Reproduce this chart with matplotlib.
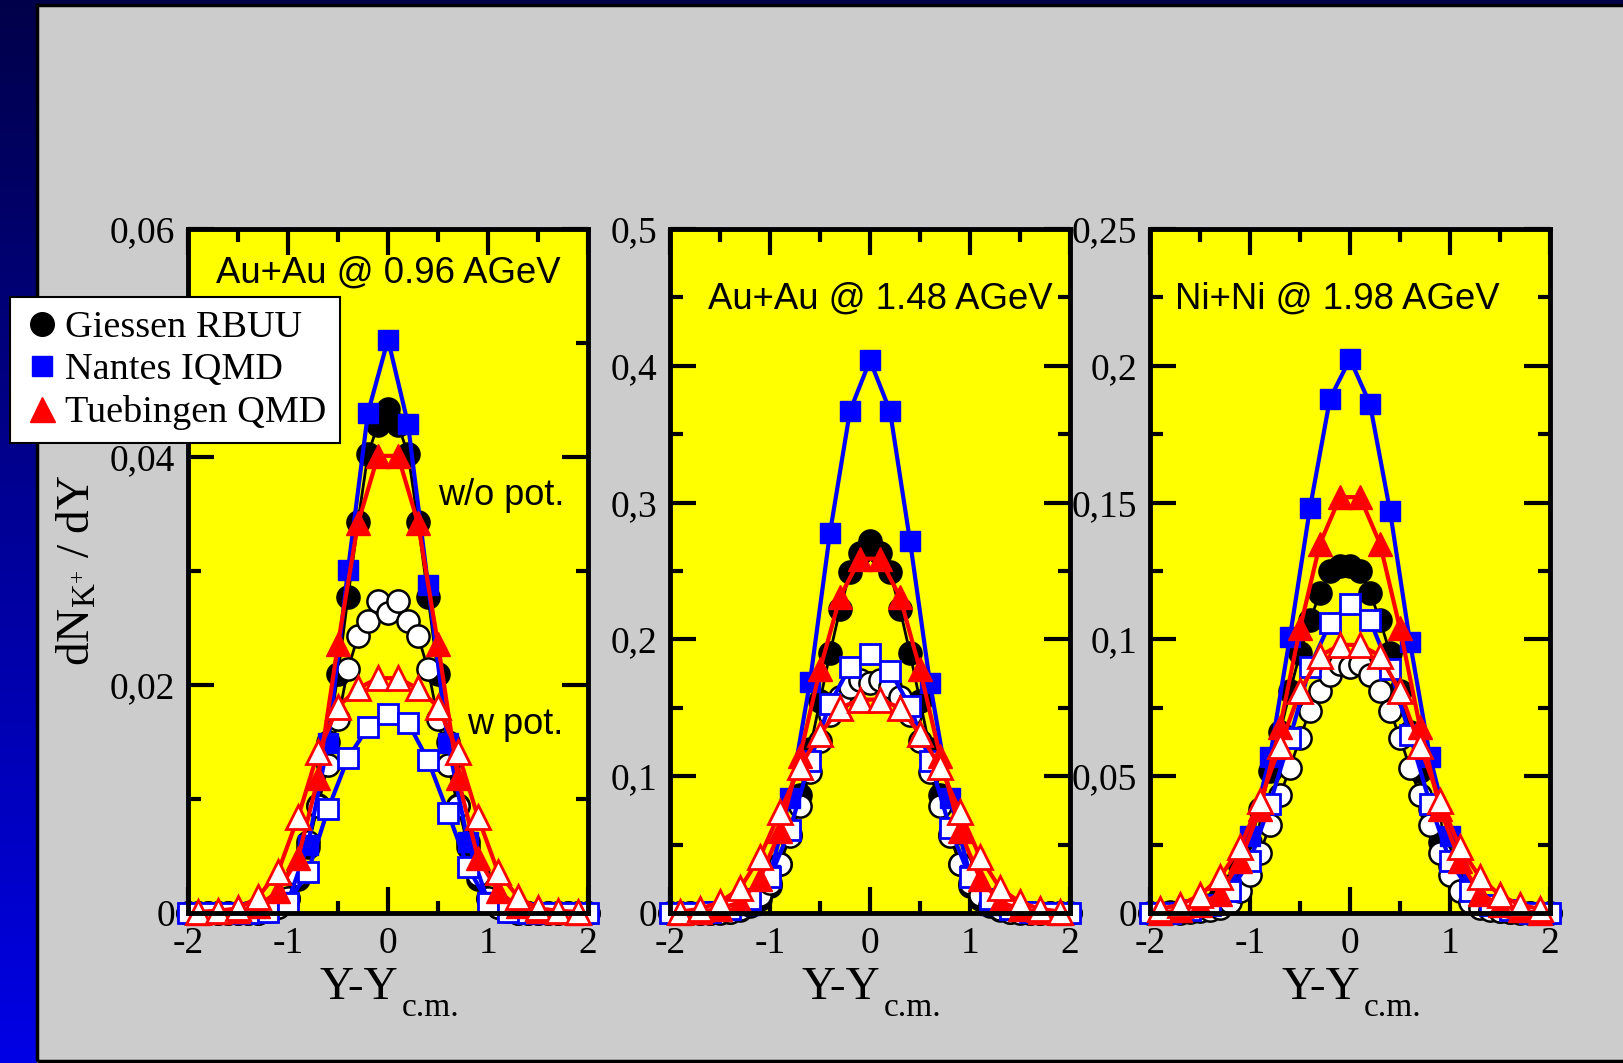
import numpy as np
import matplotlib
matplotlib.use("Agg")
import matplotlib.pyplot as plt
from matplotlib.lines import Line2D
from matplotlib.patches import Rectangle
from matplotlib.colors import LinearSegmentedColormap
from matplotlib.ticker import FixedLocator, FixedFormatter, MultipleLocator

plt.rcParams['mathtext.fontset'] = 'custom'
plt.rcParams['mathtext.rm'] = 'Liberation Serif'
plt.rcParams['mathtext.it'] = 'Liberation Serif:italic'
SERIF = ['Liberation Serif', 'DejaVu Serif']
SANS = ['Liberation Sans', 'DejaVu Sans']

# rapidity grids of the three transport codes
y_giessen = np.round(np.linspace(-2.0, 2.0, 41), 2)    # step 0.1
y_nantes = np.round(np.linspace(-2.0, 2.0, 21), 2)     # step 0.2
y_tuebingen = np.round(np.linspace(-1.9, 1.9, 20), 2)  # step 0.2, shifted

systems = ["Au+Au @ 0.96 AGeV", "Au+Au @ 1.48 AGeV", "Ni+Ni @ 1.98 AGeV"]
model_labels = ["Giessen RBUU", "Nantes IQMD", "Tuebingen QMD"]

# ---- Au+Au @ 0.96 AGeV ----
au096_giessen_nopot = [0, 0, 0, 0, 0, 0, 0, 0, 0.0002, 0.0005, 0.0012, 0.003, 0.0058, 0.0095,
                       0.0150, 0.0210, 0.0277, 0.0343, 0.0403, 0.0428, 0.0442, 0.0428, 0.0403,
                       0.0343, 0.0277, 0.0210, 0.0150, 0.0095, 0.0058, 0.003, 0.0012, 0.0005,
                       0.0002, 0, 0, 0, 0, 0, 0, 0, 0]
au096_giessen_pot = [0, 0, 0, 0, 0, 0, 0, 0, 0.0002, 0.0005, 0.0013, 0.0033, 0.0062, 0.0094,
                     0.0130, 0.0170, 0.0214, 0.0243, 0.0256, 0.0274, 0.0263, 0.0274, 0.0256,
                     0.0243, 0.0214, 0.0170, 0.0130, 0.0094, 0.0062, 0.0033, 0.0013, 0.0005,
                     0.0002, 0, 0, 0, 0, 0, 0, 0, 0]
au096_nantes_nopot = [0, 0, 0, 0, 0.0002, 0.0010, 0.0060, 0.0149, 0.0301, 0.0439, 0.0503,
                      0.0429, 0.0288, 0.0149, 0.0062, 0.0010, 0.0002, 0, 0, 0, 0]
au096_nantes_pot = [0, 0, 0, 0, 0.0001, 0.0009, 0.0036, 0.0091, 0.0136, 0.0163, 0.0175,
                    0.0167, 0.0134, 0.0088, 0.0040, 0.0009, 0.0001, 0, 0, 0, 0]
au096_tuebingen_nopot = [0, 0.0001, 0.0002, 0.0006, 0.0019, 0.0048, 0.0118, 0.0236, 0.0342,
                         0.0401, 0.0401, 0.0342, 0.0236, 0.0118, 0.0048, 0.0019, 0.0006,
                         0.0002, 0.0001, 0]
au096_tuebingen_pot = [0.0001, 0.0002, 0.0004, 0.0014, 0.0036, 0.0084, 0.0141, 0.0181, 0.0197,
                       0.0206, 0.0206, 0.0197, 0.0181, 0.0141, 0.0084, 0.0036, 0.0014, 0.0004,
                       0.0002, 0.0001]

# ---- Au+Au @ 1.48 AGeV ----
au148_giessen_nopot = [0, 0, 0, 0, 0.0002, 0.0005, 0.001, 0.002, 0.005, 0.010, 0.020, 0.036,
                       0.058, 0.086, 0.120, 0.155, 0.190, 0.222, 0.249, 0.263, 0.272, 0.263,
                       0.249, 0.222, 0.190, 0.155, 0.120, 0.086, 0.058, 0.036, 0.020, 0.010,
                       0.005, 0.002, 0.001, 0.0005, 0.0002, 0, 0, 0, 0]
au148_giessen_pot = [0, 0, 0, 0, 0, 0.0003, 0.001, 0.003, 0.006, 0.013, 0.022, 0.036, 0.056,
                     0.078, 0.103, 0.126, 0.145, 0.158, 0.165, 0.170, 0.168, 0.170, 0.165,
                     0.158, 0.145, 0.126, 0.103, 0.078, 0.056, 0.036, 0.022, 0.013, 0.006,
                     0.003, 0.001, 0.0003, 0, 0, 0, 0, 0]
au148_nantes_nopot = [0, 0, 0.001, 0.002, 0.006, 0.028, 0.084, 0.169, 0.278, 0.367, 0.404,
                      0.367, 0.272, 0.168, 0.084, 0.028, 0.006, 0.002, 0.001, 0, 0]
au148_nantes_pot = [0, 0, 0.001, 0.003, 0.010, 0.026, 0.061, 0.111, 0.153, 0.180, 0.189,
                    0.177, 0.151, 0.111, 0.062, 0.026, 0.010, 0.003, 0.001, 0, 0]
au148_tuebingen_nopot = [0, 0.001, 0.003, 0.008, 0.025, 0.060, 0.115, 0.178, 0.231, 0.259,
                         0.259, 0.231, 0.178, 0.115, 0.060, 0.025, 0.008, 0.003, 0.001, 0]
au148_tuebingen_pot = [0.001, 0.003, 0.008, 0.018, 0.041, 0.074, 0.107, 0.131, 0.150, 0.156,
                       0.156, 0.150, 0.131, 0.107, 0.074, 0.041, 0.018, 0.008, 0.003, 0.001]

# ---- Ni+Ni @ 1.98 AGeV ----
ni198_giessen_nopot = [0, 0, 0.0002, 0.0003, 0.0007, 0.0015, 0.003, 0.006, 0.010, 0.017, 0.026,
                       0.038, 0.052, 0.066, 0.081, 0.095, 0.107, 0.117, 0.125, 0.127, 0.127,
                       0.125, 0.117, 0.107, 0.095, 0.081, 0.066, 0.052, 0.038, 0.026, 0.017,
                       0.010, 0.006, 0.003, 0.0015, 0.0007, 0.0003, 0.0002, 0, 0, 0]
ni198_giessen_pot = [0, 0, 0, 0, 0.0003, 0.0006, 0.001, 0.002, 0.004, 0.008, 0.014, 0.022,
                     0.032, 0.043, 0.053, 0.064, 0.074, 0.081, 0.087, 0.091, 0.090, 0.091,
                     0.087, 0.081, 0.074, 0.064, 0.053, 0.043, 0.032, 0.022, 0.014, 0.008,
                     0.004, 0.002, 0.001, 0.0006, 0.0003, 0, 0, 0, 0]
ni198_nantes_nopot = [0, 0, 0.001, 0.003, 0.009, 0.028, 0.057, 0.101, 0.148, 0.188, 0.2025,
                      0.186, 0.147, 0.099, 0.057, 0.028, 0.009, 0.003, 0.001, 0, 0]
ni198_nantes_pot = [0, 0, 0.001, 0.003, 0.008, 0.019, 0.040, 0.064, 0.090, 0.106, 0.113,
                    0.107, 0.089, 0.065, 0.040, 0.019, 0.008, 0.003, 0.001, 0, 0]
ni198_tuebingen_nopot = [0, 0.001, 0.003, 0.007, 0.019, 0.038, 0.068, 0.104, 0.135, 0.152,
                         0.152, 0.135, 0.104, 0.068, 0.038, 0.019, 0.007, 0.003, 0.001, 0]
ni198_tuebingen_pot = [0.0015, 0.003, 0.0065, 0.013, 0.024, 0.041, 0.061, 0.081, 0.094, 0.098,
                       0.098, 0.094, 0.081, 0.061, 0.041, 0.024, 0.013, 0.0065, 0.003, 0.0015]

panels = [
    dict(title=systems[0], ymax=0.06,
         yticks=[0, 0.02, 0.04, 0.06], ylabels=["0", "0,02", "0,04", "0,06"], yminor=0.01,
         data=[au096_giessen_nopot, au096_giessen_pot, au096_nantes_nopot, au096_nantes_pot,
               au096_tuebingen_nopot, au096_tuebingen_pot],
         title_xy=(0.5, 0.935)),
    dict(title=systems[1], ymax=0.5,
         yticks=[0, 0.1, 0.2, 0.3, 0.4, 0.5],
         ylabels=["0", "0,1", "0,2", "0,3", "0,4", "0,5"], yminor=0.05,
         data=[au148_giessen_nopot, au148_giessen_pot, au148_nantes_nopot, au148_nantes_pot,
               au148_tuebingen_nopot, au148_tuebingen_pot],
         title_xy=(0.527, 0.897)),
    dict(title=systems[2], ymax=0.25,
         yticks=[0, 0.05, 0.1, 0.15, 0.2, 0.25],
         ylabels=["0", "0,05", "0,1", "0,15", "0,2", "0,25"], yminor=0.025,
         data=[ni198_giessen_nopot, ni198_giessen_pot, ni198_nantes_nopot, ni198_nantes_pot,
               ni198_tuebingen_nopot, ni198_tuebingen_pot],
         title_xy=(0.468, 0.897)),
]

W, H = 1624, 1063
fig = plt.figure(figsize=(W / 100, H / 100), dpi=100)
fig.patch.set_facecolor('#cccccc')

# dark blue slide frame: gradient strip on the left, dark band on top
grad = np.linspace(0, 1, 256).reshape(-1, 1)
frame_cmap = LinearSegmentedColormap.from_list('frame', ['#00004a', '#0000e6'])
ax_strip = fig.add_axes([0, 0, 37 / W, 1])
ax_strip.imshow(grad, aspect='auto', cmap=frame_cmap, extent=[0, 1, 1, 0])
ax_strip.set_axis_off()
ax_top = fig.add_axes([0, 1 - 4 / H, 1, 4 / H])
ax_top.set_facecolor('#00004a')
ax_top.set_xticks([])
ax_top.set_yticks([])
for sp in ax_top.spines.values():
    sp.set_visible(False)
fig.patches.append(Rectangle((37 / W, 2 / H), 1 - 37 / W + 0.01, 1 - 7 / H,
                             transform=fig.transFigure, facecolor='none',
                             edgecolor='black', linewidth=2.5, zorder=1))

lefts = [188, 670, 1150]
ax_w = 400
ax_b = 913
ax_t = 229

styles = [
    dict(color='black', marker='o', ms=16.5, mfc='black', mec='black', mew=1.2, lw=2.0),
    dict(color='black', marker='o', ms=16.0, mfc='white', mec='black', mew=1.8, lw=2.0),
    dict(color='#0000ff', marker='s', ms=14.5, mfc='#0000ff', mec='#0000ff', mew=1.0, lw=3.0),
    dict(color='#0000ff', marker='s', ms=14.5, mfc='white', mec='#0000ff', mew=2.0, lw=3.0),
    dict(color='#ff0000', marker='^', ms=17.5, mfc='#ff0000', mec='#ff0000', mew=1.0, lw=3.0),
    dict(color='#ff0000', marker='^', ms=17.5, mfc='white', mec='#ff0000', mew=2.0, lw=3.0),
]
xgrids = [y_giessen, y_giessen, y_nantes, y_nantes, y_tuebingen, y_tuebingen]
draw_order = [0, 2, 1, 3, 4, 5]

for i, p in enumerate(panels):
    ax = fig.add_axes([lefts[i] / W, 1 - ax_b / H, ax_w / W, (ax_b - ax_t) / H])
    ax.set_facecolor('#ffff00')
    for k in draw_order:
        st = styles[k]
        ax.plot(xgrids[k], p['data'][k], color=st['color'], lw=st['lw'], marker=st['marker'],
                ms=st['ms'], mfc=st['mfc'], mec=st['mec'], mew=st['mew'], clip_on=False,
                zorder=3 + k * 0.1)
    ax.set_xlim(-2, 2)
    ax.set_ylim(0, p['ymax'])
    ax.xaxis.set_major_locator(FixedLocator([-2, -1, 0, 1, 2]))
    ax.xaxis.set_major_formatter(FixedFormatter(["-2", "-1", "0", "1", "2"]))
    ax.xaxis.set_minor_locator(MultipleLocator(0.5))
    ax.yaxis.set_major_locator(FixedLocator(p['yticks']))
    ax.yaxis.set_major_formatter(FixedFormatter(p['ylabels']))
    ax.yaxis.set_minor_locator(MultipleLocator(p['yminor']))
    ax.tick_params(which='both', direction='in', top=True, right=True, width=3.0, color='black')
    ax.tick_params(which='major', length=19)
    ax.tick_params(which='minor', length=9)
    ax.tick_params(axis='y', which='major', pad=9)
    ax.tick_params(axis='x', which='major', pad=10)
    for lab in ax.get_xticklabels() + ax.get_yticklabels():
        lab.set_fontfamily(SERIF)
        lab.set_fontsize(27)
    for sp in ax.spines.values():
        sp.set_linewidth(3.5)
        sp.set_zorder(10)
    ax.text(p['title_xy'][0], p['title_xy'][1], p['title'], transform=ax.transAxes,
            ha='center', va='center', fontsize=26.3, family=SANS, zorder=20)
    # axis title under each panel
    cx = (lefts[i] + 171) / W
    fig.text(cx, 1 - 999 / H, "Y-Y", ha='center', va='baseline', fontsize=34, family=SERIF)
    fig.text(cx + 72 / W, 1 - 1016 / H, "c.m.", ha='center', va='baseline', fontsize=24,
             family=SERIF)
    if i == 0:
        ax.text(0.783, 0.61, "w/o pot.", transform=ax.transAxes, fontsize=26,
                family=SANS, ha='center', va='center', zorder=20)
        ax.text(0.817, 0.276, "w pot.", transform=ax.transAxes, fontsize=26,
                family=SANS, ha='center', va='center', zorder=20)

fig.text(77 / W, 1 - 570 / H, r'$\mathrm{dN_{K^{+}}\ /\ dY}$', rotation=90,
         ha='center', va='center', fontsize=34)

handles = [Line2D([], [], ls='none', marker='o', ms=17, mfc='black', mec='black'),
           Line2D([], [], ls='none', marker='s', ms=15, mfc='#0000ff', mec='#0000ff'),
           Line2D([], [], ls='none', marker='^', ms=18, mfc='#ff0000', mec='#ff0000')]
leg = fig.legend(handles, model_labels, loc='upper left',
                 bbox_to_anchor=(10 / W, 1 - 297 / H), prop=dict(family=SERIF, size=27.5),
                 frameon=True, fancybox=False, edgecolor='black', framealpha=1,
                 borderpad=0.35, handletextpad=0.1, labelspacing=0.2, handlelength=1.0,
                 borderaxespad=0)
leg.get_frame().set_linewidth(1.5)
leg.set_zorder(50)

fig.savefig('out.png', dpi=100, facecolor=fig.get_facecolor())
